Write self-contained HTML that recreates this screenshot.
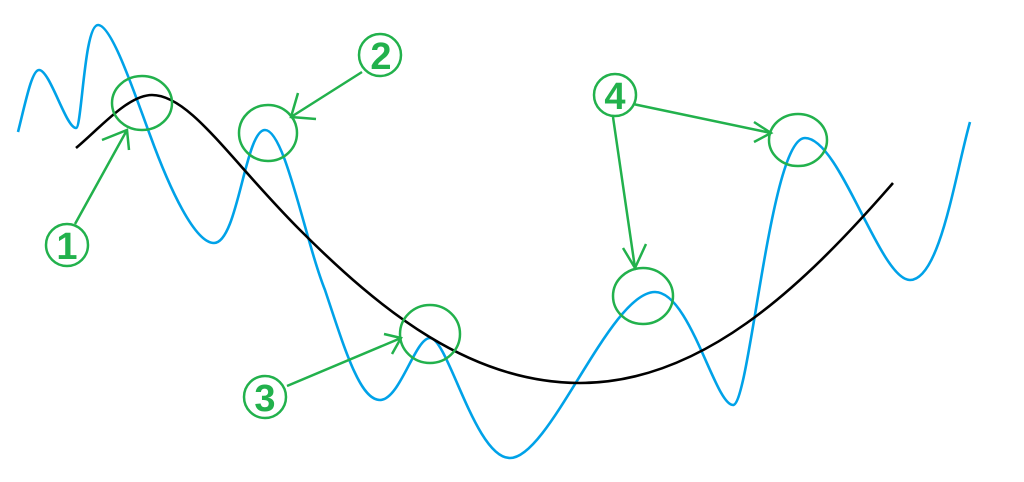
<!DOCTYPE html>
<html><head><style>html,body{margin:0;padding:0;background:#fff;width:1024px;height:482px;overflow:hidden}</style></head>
<body>
<svg width="1024" height="482" viewBox="0 0 1024 482" xmlns="http://www.w3.org/2000/svg">
<path d="M18,132 C26,100 32,70 39,70 C50,70 66,128 76,128 C82,128 84,25 98,25 C112,25 135,95 150,135 C170,190 195,243 214,243 C238,243 245,130 265,130 C285,130 305,240 325,290 C345,350 360,400 380,400 C400,400 415,338 430,338 C448,338 475,458 510,458 C550,458 610,292 655,292 C690,292 715,405 733,405 C750,405 770,138 805,138 C840,138 880,280 910,280 C940,280 955,175 970,122" fill="none" stroke="#00a2e8" stroke-width="2.6"/>
<path d="M76,148 C100,128 128,95 152,95 C190,95 230,160 300,230 C380,310 470,383 580,383 C700,383 800,290 893,183" fill="none" stroke="#000" stroke-width="2.6"/>
<g fill="none" stroke="#22b14c" stroke-width="2.5">
<ellipse cx="142" cy="103" rx="30" ry="27"/>
<ellipse cx="268" cy="133" rx="29" ry="28"/>
<ellipse cx="430" cy="334" rx="30" ry="29"/>
<ellipse cx="643" cy="296" rx="30" ry="28"/>
<ellipse cx="798" cy="140" rx="29" ry="26"/>
<circle cx="67" cy="245" r="21"/>
<circle cx="380" cy="55" r="21"/>
<circle cx="265" cy="397" r="21"/>
<circle cx="615" cy="95" r="21"/>
<path d="M75,224 L127,130 M102,140 L127,130 L129,150"/>
<path d="M362,72 L291,117 M298,93 L291,117 L316,119"/>
<path d="M287,386 L401,338 M384,334 L401,338 L392,354"/>
<path d="M633,104 L771,133 M754,122 L771,133 L754,142"/>
<path d="M613,117 L635,268 M623,248 L635,268 L646,244"/>
</g>
<g fill="#22b14c" font-family="Liberation Sans, sans-serif" font-weight="bold" font-size="38" text-anchor="middle">
<text x="67" y="259">1</text>
<text x="381" y="69">2</text>
<text x="265" y="411">3</text>
<text x="615" y="109">4</text>
</g>
</svg>
</body></html>
